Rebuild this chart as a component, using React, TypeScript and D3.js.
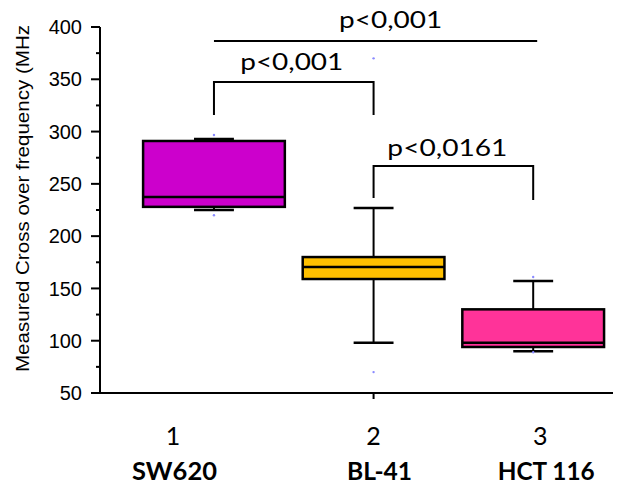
import React, { useEffect, useRef } from 'react';
import * as d3 from 'd3';

// box plot values (MHz)
const categories = [1, 2, 3];
const numberLabels = ['1', '2', '3'];
const cellLines = ['SW620', 'BL-41', 'HCT 116'];
const whiskerLow = [225, 98, 90];
const q1 = [228, 159, 94];
const medians = [237.5, 170.5, 98];
const q3 = [291, 180, 130];
const whiskerHigh = [293, 227, 157];
const extremes = [[296.7, 220], [370, 70], [161, 89]];
const boxColors = ['#cc00cc', '#ffc000', '#ff3399'];

const yTicks = [50, 100, 150, 200, 250, 300, 350, 400];
const yMinorTicks = [75, 125, 175, 225, 275, 325, 375];

// significance brackets
const pairs = [[1, 3], [1, 2], [2, 3]];
const pLabels = ['p<0,001', 'p<0,001', 'p<0,0161'];
const barLevels = [386.6, 347.4, 267];
const dropLevels: (number[] | null)[] = [null, [315.8, 315.8], [236.5, 234.6]];

const W = 621;
const H = 487;

export default function App() {
  const ref = useRef<SVGSVGElement>(null);

  useEffect(() => {
    const svg = d3.select(ref.current);
    svg.selectAll('*').remove();

    const x = d3.scaleLinear().domain([0.286, 3.5]).range([100, 613]);
    const y = d3.scaleLinear().domain([50, 400]).range([393, 27]);
    const halfBox = 0.444;
    const halfCap = 0.125;

    // y axis
    const yAxis = svg.append('g').attr('transform', 'translate(100,0)');
    yAxis.append('line').attr('y1', y(400)).attr('y2', y(50)).attr('stroke', '#000').attr('stroke-width', 2);
    yAxis.selectAll('.maj').data(yTicks).enter().append('line')
      .attr('x1', -9).attr('x2', 0).attr('y1', d => y(d)).attr('y2', d => y(d))
      .attr('stroke', '#000').attr('stroke-width', 2);
    yAxis.selectAll('.min').data(yMinorTicks).enter().append('line')
      .attr('x1', -4).attr('x2', 0).attr('y1', d => y(d)).attr('y2', d => y(d))
      .attr('stroke', '#000').attr('stroke-width', 2);
    yAxis.selectAll('text').data(yTicks).enter().append('text')
      .attr('x', -18).attr('y', d => y(d)).attr('dy', '0.36em')
      .attr('text-anchor', 'end')
      .attr('font-family', '"Liberation Sans", Arial, sans-serif')
      .attr('font-size', 20)
      .text(d => d);

    // x axis
    svg.append('line').attr('x1', 92).attr('x2', 613).attr('y1', 393).attr('y2', 393)
      .attr('stroke', '#000').attr('stroke-width', 2);
    svg.selectAll('.xt').data([2]).enter().append('line')
      .attr('x1', d => x(d)).attr('x2', d => x(d)).attr('y1', 393).attr('y2', 399)
      .attr('stroke', '#000').attr('stroke-width', 2);

    svg.append('text')
      .attr('transform', 'translate(29,198.5) rotate(-90)')
      .attr('text-anchor', 'middle')
      .attr('font-family', '"Liberation Sans", Arial, sans-serif')
      .attr('font-size', 19)
      .attr('textLength', 347).attr('lengthAdjust', 'spacingAndGlyphs')
      .text('Measured Cross over frequency (MHz');

    // boxes
    const g = svg.selectAll('.box').data(categories).enter().append('g');
    g.append('line')
      .attr('x1', d => x(d)).attr('x2', d => x(d))
      .attr('y1', (d, i) => y(whiskerHigh[i])).attr('y2', (d, i) => y(whiskerLow[i]))
      .attr('stroke', '#000').attr('stroke-width', 2);
    g.append('line')
      .attr('x1', d => x(d - halfCap)).attr('x2', d => x(d + halfCap))
      .attr('y1', (d, i) => y(whiskerHigh[i])).attr('y2', (d, i) => y(whiskerHigh[i]))
      .attr('stroke', '#000').attr('stroke-width', 2.5);
    g.append('line')
      .attr('x1', d => x(d - halfCap)).attr('x2', d => x(d + halfCap))
      .attr('y1', (d, i) => y(whiskerLow[i])).attr('y2', (d, i) => y(whiskerLow[i]))
      .attr('stroke', '#000').attr('stroke-width', 2.5);
    g.append('rect')
      .attr('x', d => x(d - halfBox)).attr('width', d => x(d + halfBox) - x(d - halfBox))
      .attr('y', (d, i) => y(q3[i])).attr('height', (d, i) => y(q1[i]) - y(q3[i]))
      .attr('fill', (d, i) => boxColors[i])
      .attr('stroke', '#000').attr('stroke-width', 2.5);
    g.append('line')
      .attr('x1', d => x(d - halfBox)).attr('x2', d => x(d + halfBox))
      .attr('y1', (d, i) => y(medians[i])).attr('y2', (d, i) => y(medians[i]))
      .attr('stroke', '#000').attr('stroke-width', 2.5);
    g.selectAll('circle').data((d, i) => extremes[i].map(v => [d, v])).enter().append('circle')
      .attr('cx', p => x(p[0])).attr('cy', p => y(p[1])).attr('r', 1.2)
      .attr('fill', '#8a8aff');

    // brackets
    const br = svg.selectAll('.br').data(pairs).enter().append('g');
    br.append('path')
      .attr('d', (p, i) => {
        const x0 = x(p[0]), x1 = x(p[1]) + (i === 0 ? 4 : 0), yb = y(barLevels[i]);
        const dr = dropLevels[i];
        if (!dr) return `M${x0},${yb}H${x1}`;
        return `M${x0},${y(dr[0])}V${yb}H${x1}V${y(dr[1])}`;
      })
      .attr('fill', 'none').attr('stroke', '#000').attr('stroke-width', 2);
    const textDx = [17, -2, -6];
    const textDy = [-13, -12, -10];
    const textLen = [103, 103, 120];
    br.append('text')
      .attr('x', (p, i) => (x(p[0]) + x(p[1])) / 2 + textDx[i])
      .attr('y', (p, i) => y(barLevels[i]) + textDy[i])
      .attr('text-anchor', 'middle')
      .attr('font-family', 'Lato, "Open Sans", sans-serif')
      .attr('font-size', 23)
      .attr('textLength', (p, i) => textLen[i]).attr('lengthAdjust', 'spacingAndGlyphs')
      .text((p, i) => pLabels[i]);

    // category labels
    const numDx = [-41, 0, 7];
    const nameDx = [-39.5, 6, 13];
    const nameLen = [85, 65, 97];
    svg.selectAll('.num').data(categories).enter().append('text')
      .attr('x', (d, i) => x(d) + numDx[i]).attr('y', 445)
      .attr('text-anchor', 'middle')
      .attr('font-family', 'Lato, "Open Sans", sans-serif')
      .attr('font-size', 25)
      .text((d, i) => numberLabels[i]);
    svg.selectAll('.name').data(categories).enter().append('text')
      .attr('x', (d, i) => x(d) + nameDx[i]).attr('y', 480)
      .attr('text-anchor', 'middle')
      .attr('font-family', 'Lato, "Open Sans", sans-serif')
      .attr('font-weight', 'bold')
      .attr('font-size', 24)
      .attr('textLength', (d, i) => nameLen[i]).attr('lengthAdjust', 'spacingAndGlyphs')
      .text((d, i) => cellLines[i]);
  }, []);

  return (
    <svg ref={ref} width={W} height={H}
      style={{ position: 'absolute', left: 0, top: 0, background: '#fff' }} />
  );
}
